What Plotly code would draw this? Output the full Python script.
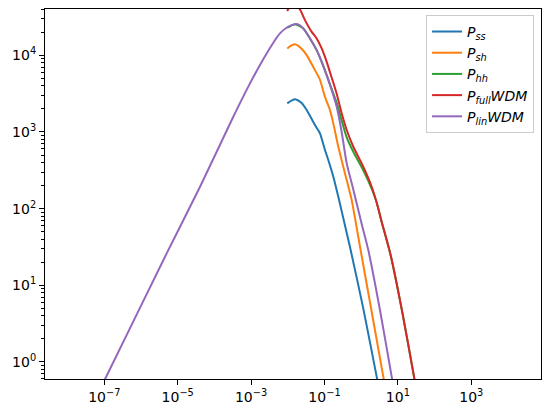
import plotly.graph_objects as go

# ---- data (k, P) ----
k_lin = [1e-8, 1.052e-7, 5.01e-6, 4.06e-5, 3.27e-4, 9.33e-4, 2.66e-3, 6.12e-3, 1.0e-2, 1.57e-2,
         2.0e-2, 2.64e-2, 4.03e-2, 6.12e-2, 8.39e-2, 0.1148, 0.157, 0.215, 0.294, 0.403, 0.61,
         1.033, 1.563, 3.25, 6.78, 10.0]
P_lin = [6.2e-2, 0.6, 26.1, 193.2, 1578, 4305, 1.059e4, 1.932e4, 2.34e4, 2.55e4,
         2.51e4, 2.24e4, 1.66e4, 1.17e4, 8.22e3, 5.52e3, 3.52e3, 2.13e3, 1.0e3, 3.9e2, 1.78e2,
         63.1, 28.8, 4.76, 0.643, 0.22]

k_ss = [9.68e-3, 1.26e-2, 1.67e-2, 2.34e-2, 3.27e-2, 5.51e-2, 7.53e-2, 0.103, 0.127, 0.174,
        0.238, 0.362, 0.495, 1.14, 2.64, 3.55]
P_ss = [2361, 2570, 2661, 2399, 1932, 1230, 959, 581, 431, 261, 143, 60.3, 31.6, 5.0, 0.643, 0.316]

k_sh = [9.68e-3, 1.26e-2, 1.64e-2, 2.34e-2, 3.27e-2, 5.51e-2, 7.53e-2, 0.103, 0.141, 0.174,
        0.238, 0.362, 0.551, 0.964, 1.694, 4.0, 5.25]
P_sh = [1.23e4, 1.35e4, 1.387e4, 1.23e4, 1.007e4, 6.41e3, 4.80e3, 2.88e3, 1.93e3, 1.294e3,
        641, 288, 129, 28.8, 6.43, 0.643, 0.302]

k_hh = [9.68e-3, 1.57e-2, 2.64e-2, 4.03e-2, 6.12e-2, 8.39e-2, 0.1148, 0.157, 0.215, 0.294,
        0.403, 0.61, 1.14, 1.93, 2.64, 3.61, 6.31, 13.18, 27.5, 35.5]
P_hh = [2.29e4, 2.55e4, 2.24e4, 1.66e4, 1.17e4, 8.22e3, 5.52e3, 3.63e3, 2.40e3, 1.41e3,
        851, 550, 316, 182, 120, 67.6, 25.1, 4.47, 0.643, 0.316]

k_full = [9.68e-3, 1.20e-2, 1.48e-2, 2.15e-2, 2.94e-2, 4.48e-2, 6.12e-2, 8.39e-2, 0.1148, 0.157,
          0.215, 0.294, 0.403, 0.61, 1.14, 1.93, 2.64, 3.61, 6.31, 13.18, 27.5, 35.5]
P_full = [3.77e4, 4.57e4, 4.79e4, 3.96e4, 2.88e4, 2.02e4, 1.66e4, 1.23e4, 8.22e3, 5.13e3,
          3.16e3, 1.75e3, 1.06e3, 641, 352, 193, 120, 67.6, 25.1, 4.47, 0.643, 0.316]

series_names = ["<i>P<sub>ss</sub></i>", "<i>P<sub>sh</sub></i>", "<i>P<sub>hh</sub></i>",
                "<i>P<sub>full</sub>WDM</i>", "<i>P<sub>lin</sub>WDM</i>"]
colors = ["#1f77b4", "#ff7f0e", "#2ca02c", "#d62728", "#9467bd"]

x_tick_exp = [-7, -5, -3, -1, 1, 3]
y_tick_exp = [0, 1, 2, 3, 4]

# ---- figure ----
fig = go.Figure()
for kx, py, name, c in zip([k_ss, k_sh, k_hh, k_full, k_lin],
                           [P_ss, P_sh, P_hh, P_full, P_lin],
                           series_names, colors):
    fig.add_trace(go.Scatter(x=kx, y=py, mode="lines", name=name,
                             line=dict(color=c, width=2, shape="spline", smoothing=0.6)))


def lab(e):
    return "10<sup>" + ("\u2212" if e < 0 else "") + str(abs(e)) + "</sup>"


y_minor = [d * 10.0 ** e for e in range(-1, 5) for d in range(2, 10)]

axis_common = dict(type="log", showline=True, mirror=True, linecolor="black", linewidth=1.1,
                   ticks="outside", tickcolor="black", tickwidth=1.1, ticklen=5,
                   showgrid=False, zeroline=False, tickmode="array",
                   tickfont=dict(family="DejaVu Sans", size=14, color="black"))

fig.update_xaxes(range=[-8.616, 4.9], tickvals=[10.0 ** e for e in x_tick_exp],
                 ticktext=[lab(e) for e in x_tick_exp], **axis_common)
fig.update_yaxes(range=[-0.222, 4.604], tickvals=[10.0 ** e for e in y_tick_exp],
                 ticktext=[lab(e) for e in y_tick_exp],
                 minor=dict(ticks="outside", ticklen=3, tickcolor="black", tickwidth=0.8,
                            tickmode="array", tickvals=y_minor, showgrid=False),
                 **axis_common)

fig.update_layout(
    width=551, height=417,
    margin=dict(l=45, r=10, t=9, b=38),
    paper_bgcolor="white", plot_bgcolor="white",
    font=dict(family="DejaVu Sans", size=14, color="black"),
    legend=dict(x=0.986, y=0.984, xanchor="right", yanchor="top",
                bgcolor="rgba(255,255,255,0.8)", bordercolor="#cccccc", borderwidth=1,
                font=dict(family="DejaVu Sans", size=14, color="black")),
    showlegend=True,
)

fig.write_html("out.html")
